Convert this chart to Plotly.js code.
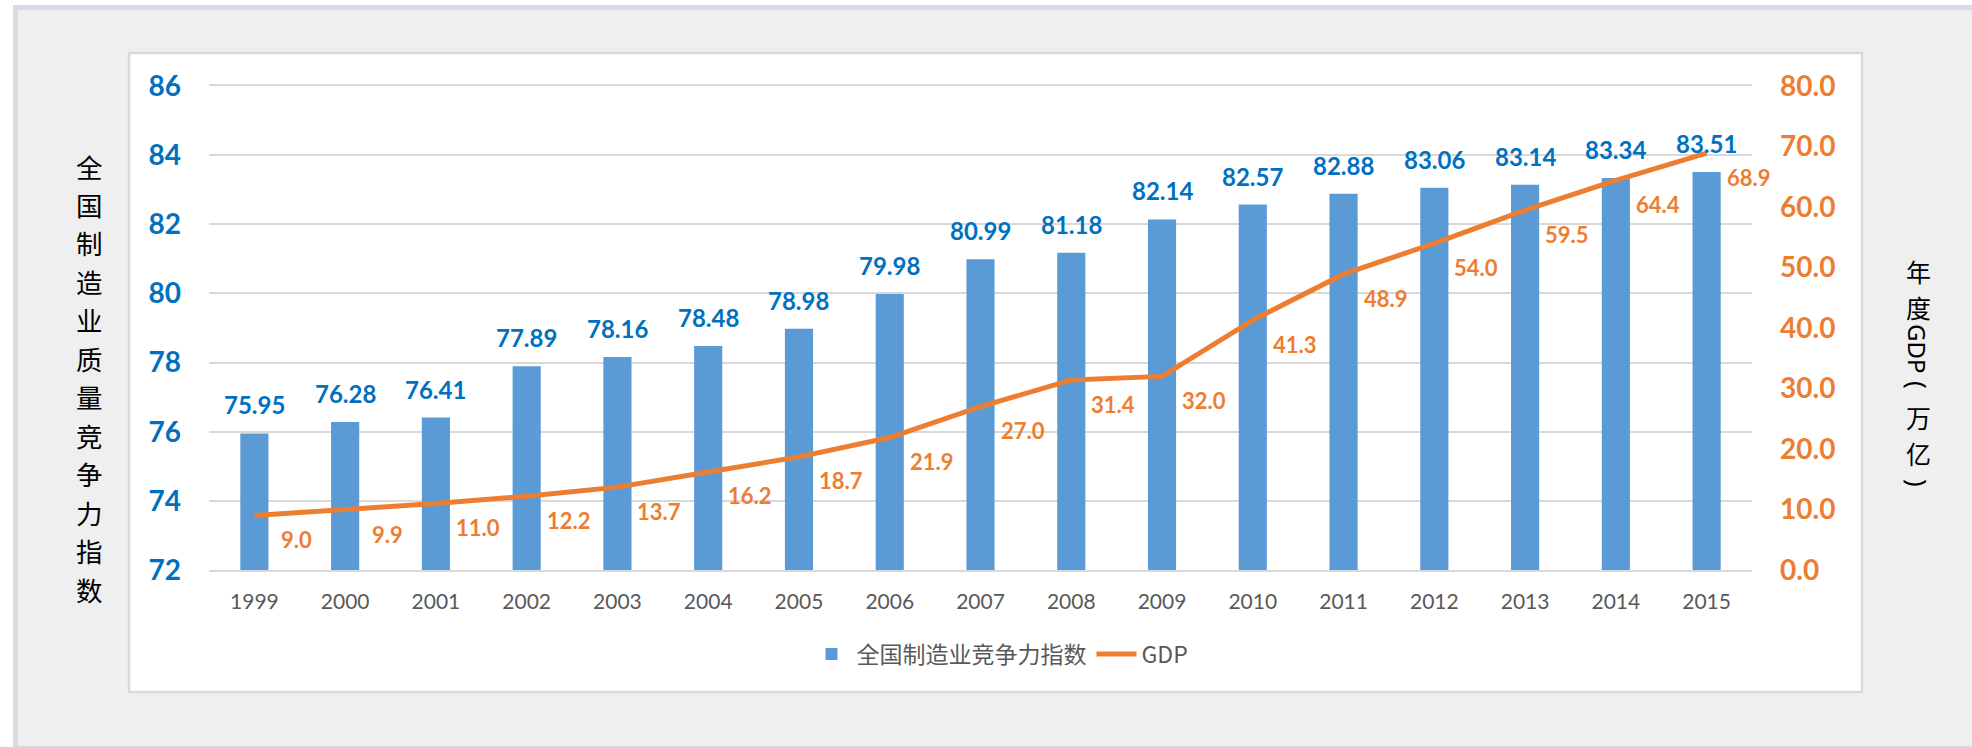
<!DOCTYPE html>
<html>
<head>
<meta charset="utf-8">
<script src="https://cdn.plot.ly/plotly-3.0.1.min.js"></script>
<style>
  html, body { margin: 0; padding: 0; background: #ffffff; }
  #chart { width: 1972px; height: 747px; }
</style>
</head>
<body>
<div id="chart"></div>
<script>
// ---- data ----
const years = ['1999','2000','2001','2002','2003','2004','2005','2006','2007','2008','2009','2010','2011','2012','2013','2014','2015'];
const indexValues = [75.95, 76.28, 76.41, 77.89, 78.16, 78.48, 78.98, 79.98, 80.99, 81.18, 82.14, 82.57, 82.88, 83.06, 83.14, 83.34, 83.51];
const gdpValues = [9.0, 9.9, 11.0, 12.2, 13.7, 16.2, 18.7, 21.9, 27.0, 31.4, 32.0, 41.3, 48.9, 54.0, 59.5, 64.4, 68.9];
const leftTickVals = [72, 74, 76, 78, 80, 82, 84, 86];
const rightTickVals = [0, 10, 20, 30, 40, 50, 60, 70, 80];
const barName = '全国制造业竞争力指数';
const lineName = 'GDP';
const leftTitle = '全国制造业质量竞争力指数';

// ---- geometry helpers (layout only) ----
const W = 1972, H = 747;
const PL = 209, PR = 1752, PT = 86, PB = 570;
const px = x => (x - PL) / (PR - PL);
const py = y => (PB - y) / (PB - PT);

const LATIN = 'Lato, "Liberation Sans", Arial, sans-serif';
const CJK = '"Noto Sans CJK SC", "Noto Sans", sans-serif';
const BLUE = '#0070c0', ORANGE = '#ed7d31', BAR = '#5b9bd5', GRAY = '#595959';

const traces = [
  {
    type: 'bar', x: years, y: indexValues, name: barName,
    marker: { color: BAR }, yaxis: 'y', hoverinfo: 'x+y'
  },
  {
    type: 'scatter', mode: 'lines', x: years, y: gdpValues, name: lineName,
    line: { color: ORANGE, width: 5 }, yaxis: 'y2', hoverinfo: 'x+y'
  }
];

const annotations = [];
years.forEach((yr, i) => {
  annotations.push({
    x: i, y: indexValues[i], xref: 'x', yref: 'y',
    text: '<b>' + indexValues[i].toFixed(2) + '</b>', showarrow: false,
    xanchor: 'center', yanchor: 'bottom', yshift: 12,
    font: { family: LATIN, size: 24, color: BLUE }
  });
  annotations.push({
    x: i, y: gdpValues[i], xref: 'x', yref: 'y2',
    text: '<b>' + gdpValues[i].toFixed(1) + '</b>', showarrow: false,
    xanchor: 'center', yanchor: 'middle', xshift: 42, yshift: -24,
    font: { family: LATIN, size: 22, color: ORANGE }
  });
});

// left vertical title: one character per annotation
const leftChars = Array.from(leftTitle);
const firstY = 166, lastY = 589;
leftChars.forEach((ch, i) => {
  annotations.push({
    x: px(90), y: py(firstY + i * (lastY - firstY) / (leftChars.length - 1)),
    xref: 'paper', yref: 'paper', text: ch, showarrow: false,
    xanchor: 'center', yanchor: 'middle',
    font: { family: CJK, size: 26.5, color: '#000000' }
  });
});

// right vertical title: 年 / 度 / GDP (rotated) / （ / 万 / 亿 / ）
const rightParts = [
  { t: '年', y: 271, a: 0, s: 25, f: CJK },
  { t: '度', y: 307, a: 0, s: 25, f: CJK },
  { t: 'GDP', y: 349, a: 90, s: 24, f: '"Noto Sans", sans-serif' },
  { t: '(', y: 385, a: 90, s: 26, f: '"Noto Sans", sans-serif' },
  { t: '万', y: 417, a: 0, s: 25, f: CJK },
  { t: '亿', y: 453, a: 0, s: 25, f: CJK },
  { t: ')', y: 483, a: 90, s: 26, f: '"Noto Sans", sans-serif' }
];
rightParts.forEach(p => {
  annotations.push({
    x: px(1918), y: py(p.y), xref: 'paper', yref: 'paper',
    text: p.t, showarrow: false, textangle: p.a,
    xanchor: 'center', yanchor: 'middle',
    font: { family: p.f, size: p.s, color: '#000000' }
  });
});

const layout = {
  width: W, height: H,
  margin: { l: PL, r: W - PR, t: PT, b: H - PB, pad: 0 },
  paper_bgcolor: '#ffffff',
  plot_bgcolor: 'rgba(0,0,0,0)',
  font: { family: LATIN, color: GRAY },
  bargap: 0.69,
  showlegend: true,
  legend: {
    orientation: 'h', x: px(1000), xanchor: 'center', y: py(654), yanchor: 'middle',
    font: { family: CJK, size: 23, color: GRAY }, bgcolor: 'rgba(0,0,0,0)',
    traceorder: 'normal', itemwidth: 40
  },
  xaxis: {
    type: 'category', range: [-0.5, 16.5],
    showgrid: false, zeroline: false,
    showline: true, mirror: true, linecolor: '#d9d9d9', linewidth: 2,
    ticks: '', ticklabelstandoff: 12,
    tickfont: { family: LATIN, size: 21, color: GRAY }
  },
  yaxis: {
    range: [72, 86], tickvals: leftTickVals, ticktext: leftTickVals.map(String),
    showgrid: true, gridcolor: '#d9d9d9', gridwidth: 2,
    zeroline: false, showline: false, ticks: '', ticklabelstandoff: 27,
    tickfont: { family: LATIN, size: 28, color: BLUE, weight: 'bold' }
  },
  yaxis2: {
    overlaying: 'y', side: 'right', range: [0, 80],
    tickvals: rightTickVals, ticktext: rightTickVals.map(v => v.toFixed(1)),
    showgrid: false, zeroline: false, showline: false, ticks: '', ticklabelstandoff: 27,
    tickfont: { family: LATIN, size: 28, color: ORANGE, weight: 'bold' }
  },
  shapes: [
    {
      type: 'rect', xref: 'paper', yref: 'paper', layer: 'below',
      x0: px(15.5), x1: px(2010), y0: py(7.5), y1: py(748.5),
      fillcolor: '#efefef', line: { color: '#d6dce5', width: 5 }
    },
    {
      type: 'rect', xref: 'paper', yref: 'paper', layer: 'below',
      x0: px(129), x1: px(1862), y0: py(53), y1: py(692),
      fillcolor: '#ffffff', line: { color: '#d9d9d9', width: 2.5 }
    }
  ],
  annotations: annotations
};

Plotly.newPlot('chart', traces, layout, { displayModeBar: false, responsive: false });
</script>
</body>
</html>
